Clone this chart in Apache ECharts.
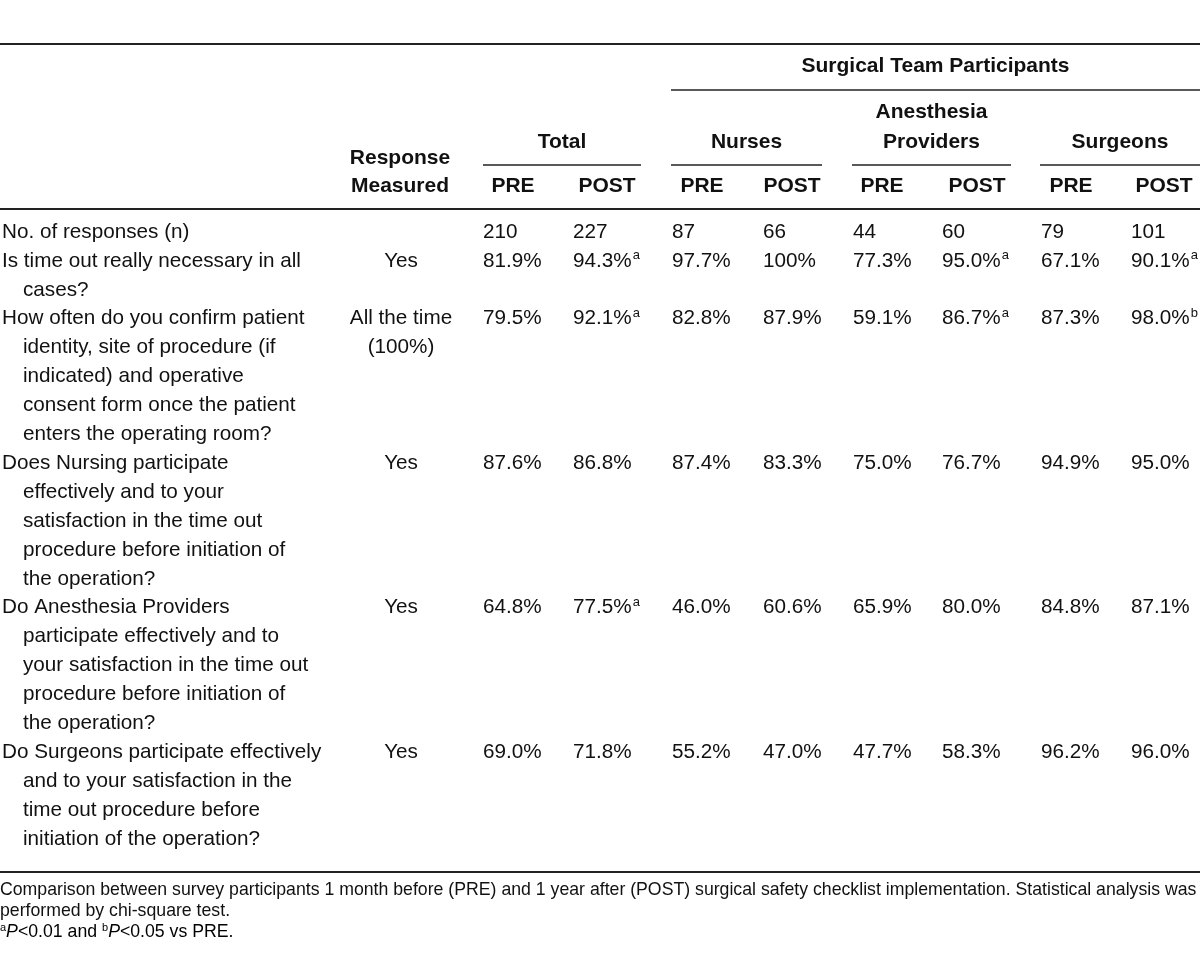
<!DOCTYPE html>
<html><head><meta charset="utf-8">
<script src="https://cdn.jsdelivr.net/npm/echarts@6/dist/echarts.min.js"></script>
<style>html,body{margin:0;padding:0;background:#fff}#chart{width:1200px;height:968px}</style>
</head><body><div id="chart"></div>
<script>
// ---------- data ----------
const questionLines = [
  ["No. of responses (n)"],
  ["Is time out really necessary in all", "cases?"],
  ["How often do you confirm patient", "identity, site of procedure (if", "indicated) and operative", "consent form once the patient", "enters the operating room?"],
  ["Does Nursing participate", "effectively and to your", "satisfaction in the time out", "procedure before initiation of", "the operation?"],
  ["Do Anesthesia Providers", "participate effectively and to", "your satisfaction in the time out", "procedure before initiation of", "the operation?"],
  ["Do Surgeons participate effectively", "and to your satisfaction in the", "time out procedure before", "initiation of the operation?"]
];
const responseMeasured = [[], ["Yes"], ["All the time", "(100%)"], ["Yes"], ["Yes"], ["Yes"]];
const groupNames = ["Total", "Nurses", "Anesthesia\nProviders", "Surgeons"];
const phaseNames = ["PRE", "POST"];
const spanTitle = "Surgical Team Participants";
const responseTitle = "Response\nMeasured";

const totalPre   = [210, 81.9, 79.5, 87.6, 64.8, 69.0];
const totalPost  = [227, 94.3, 92.1, 86.8, 77.5, 71.8];
const nursesPre  = [87, 97.7, 82.8, 87.4, 46.0, 55.2];
const nursesPost = [66, 100, 87.9, 83.3, 60.6, 47.0];
const anesPre    = [44, 77.3, 59.1, 75.0, 65.9, 47.7];
const anesPost   = [60, 95.0, 86.7, 76.7, 80.0, 58.3];
const surgPre    = [79, 67.1, 87.3, 94.9, 84.8, 96.2];
const surgPost   = [101, 90.1, 98.0, 95.0, 87.1, 96.0];

const noMarks        = ["", "", "", "", "", ""];
const totalPostMarks = ["", "a", "a", "", "a", ""];
const anesPostMarks  = ["", "a", "a", "", "", ""];
const surgPostMarks  = ["", "a", "b", "", "", ""];

const footnoteLines = [
  "Comparison between survey participants 1 month before (PRE) and 1 year after (POST) surgical safety checklist implementation. Statistical analysis was",
  "performed by chi-square test."
];

// ---------- layout ----------
const valueColumns = [totalPre, totalPost, nursesPre, nursesPost, anesPre, anesPost, surgPre, surgPost];
const markColumns  = [noMarks, totalPostMarks, noMarks, noMarks, noMarks, anesPostMarks, noMarks, surgPostMarks];
const COL_X  = [483, 573, 672, 763, 853, 942, 1041, 1131];
const HEAD_X = [513, 607, 702, 792, 882, 977, 1071, 1164];
const GROUP_SPAN = [[483, 641], [671, 822], [852, 1011], [1040, 1200]];
const RESP_X = 401, Q_X = 2, Q_INDENT = 23;
const BODY_TOP = 232, PITCH = 28.9;
const FONT = '"Liberation Sans", Arial, sans-serif';
const BODY_SIZE = 20.7, INK = '#111';

// footnote font size fitted so the first line spans the table width
const measureCtx = document.createElement('canvas').getContext('2d');
measureCtx.font = '20px ' + FONT;
const FOOT_SIZE = Math.min(19, 20 * 1197 / measureCtx.measureText(footnoteLines[0]).width);

const rowStart = [];
let acc = 0;
questionLines.forEach(q => { rowStart.push(acc); acc += q.length; });
const totalLines = acc - 1;

function fmt(v, r) {
  if (r === 0) return String(v);
  if (v === 100) return '100%';
  return v.toFixed(1) + '%';
}

const cells = [];
const points = [];
questionLines.forEach((lines, r) => {
  lines.forEach((t, k) => {
    cells.push({ text: t, align: 'left' });
    points.push([k === 0 ? Q_X : Q_INDENT, rowStart[r] + k]);
  });
  responseMeasured[r].forEach((t, k) => {
    cells.push({ text: t, align: 'center' });
    points.push([RESP_X, rowStart[r] + k]);
  });
  valueColumns.forEach((col, c) => {
    cells.push({ text: fmt(col[r], r), sup: markColumns[c][r], align: 'left' });
    points.push([COL_X[c], rowStart[r]]);
  });
});

const rich = {
  n: { fontFamily: FONT, fontSize: BODY_SIZE, lineHeight: 24, color: INK },
  s: { fontFamily: FONT, fontSize: 13, lineHeight: 13, verticalAlign: 'top', color: INK, padding: [0, 0, 0, 1] }
};

const chart = echarts.init(document.getElementById('chart'), null, { renderer: 'canvas' });

const graphics = [];
function hline(y, x1, x2, w) {
  graphics.push({ type: 'line', shape: { x1, y1: y, x2, y2: y }, style: { stroke: '#222', lineWidth: w }, silent: true });
}
function htext(t, x, y) {
  graphics.push({ type: 'text', x, y, style: { text: t, fill: INK, font: 'bold 21px ' + FONT, textAlign: 'center', textVerticalAlign: 'middle' }, silent: true });
}
hline(44, 0, 1200, 2);
hline(209, 0, 1200, 2);
hline(872, 0, 1200, 2);
hline(90, 671, 1200, 1.6);
GROUP_SPAN.forEach(s => hline(165, s[0], s[1], 1.6));
htext(spanTitle, (671 + 1200) / 2, 66);
groupNames.forEach((g, i) => {
  const cx = (GROUP_SPAN[i][0] + GROUP_SPAN[i][1]) / 2;
  const parts = g.split('\n');
  parts.forEach((p, k) => htext(p, cx, 142 - (parts.length - 1 - k) * 30));
});
responseTitle.split('\n').forEach((p, k) => htext(p, 400, 158 + k * 28));
HEAD_X.forEach((x, i) => htext(phaseNames[i % 2], x, 186));

footnoteLines.forEach((t, k) => {
  graphics.push({ type: 'text', x: 0, y: 890 + k * 21, style: { text: t, fill: INK, font: FOOT_SIZE + 'px ' + FONT, textAlign: 'left', textVerticalAlign: 'middle' }, silent: true });
});
graphics.push({ type: 'text', x: 0, y: 932, style: {
  text: '{s|a}{i|P}{n|<0.01 and }{s|b}{i|P}{n|<0.05 vs PRE.}',
  textAlign: 'left', textVerticalAlign: 'middle',
  rich: {
    n: { fontFamily: FONT, fontSize: FOOT_SIZE, lineHeight: 20, color: INK },
    i: { fontFamily: FONT, fontSize: FOOT_SIZE, fontStyle: 'italic', lineHeight: 20, color: INK },
    s: { fontFamily: FONT, fontSize: 11, lineHeight: 11, verticalAlign: 'top', color: INK }
  }
}, silent: true });

chart.setOption({
  animation: false,
  grid: { left: 0, right: 0, top: BODY_TOP, bottom: 968 - BODY_TOP - totalLines * PITCH, containLabel: false },
  xAxis: { type: 'value', min: 0, max: 1200, show: false },
  yAxis: { type: 'value', min: 0, max: totalLines, inverse: true, show: false },
  graphic: graphics,
  series: [{
    type: 'custom',
    clip: false,
    data: points,
    renderItem: function (params, api) {
      const d = cells[params.dataIndex];
      const p = api.coord([api.value(0), api.value(1)]);
      const txt = d.sup ? '{n|' + d.text + '}{s|' + d.sup + '}' : '{n|' + d.text + '}';
      return {
        type: 'text', x: p[0], y: p[1], silent: true,
        style: { text: txt, rich: rich, fill: INK, fontFamily: FONT, fontSize: BODY_SIZE, align: d.align, verticalAlign: 'middle' }
      };
    }
  }]
});
</script></body></html>
